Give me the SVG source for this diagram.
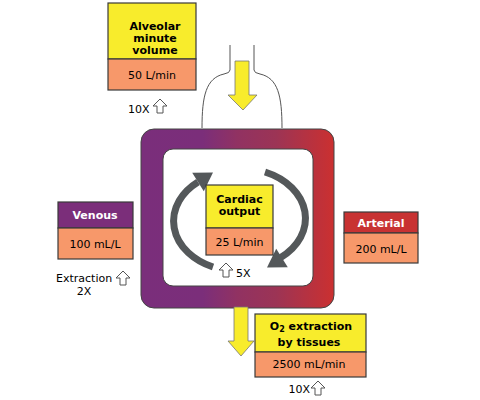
<svg xmlns="http://www.w3.org/2000/svg" width="480" height="400" viewBox="0 0 480 400">
<defs>
<style>
.box{stroke:#3a3a3a;stroke-width:1.2}
.yel{fill:#F8EC2C}
.org{fill:#F7986A}
.t{font-family:"DejaVu Sans",Verdana,sans-serif;font-size:11px;fill:#000;text-anchor:middle}
.b{font-weight:bold}
.w{fill:#fff}
.s{text-anchor:start}
.e{text-anchor:end}
.arc{fill:none;stroke:#54585A;stroke-width:7}
.head{fill:#54585A}
.ya{fill:#F8EC2C;stroke:#777;stroke-width:0.8}
.bell{fill:none;stroke:#555;stroke-width:1}
</style>
<linearGradient id="blood" gradientUnits="userSpaceOnUse" x1="141" y1="0" x2="334" y2="0">
<stop offset="0" stop-color="#7A2E7B"/>
<stop offset="0.32" stop-color="#7B2E7A"/>
<stop offset="0.5" stop-color="#913262"/>
<stop offset="0.7" stop-color="#9C3455"/>
<stop offset="1" stop-color="#CB3030"/>
</linearGradient>
<path id="up" d="M0,0 L7,7 L3,7 L3,14 L-3,14 L-3,7 L-7,7 Z" fill="#fff" stroke="#555" stroke-width="1"/>
</defs>

<g id="circulation">
<rect x="141" y="129" width="193" height="179" rx="13" fill="url(#blood)" stroke="#444" stroke-width="1"/>
<rect x="163" y="149" width="150" height="137" rx="10" fill="#fff" stroke="#444" stroke-width="1"/>
</g>

<g id="airway">
<path class="bell" d="M230,45 V70 Q230,73 224,74 C206,78 202,96 202,128"/>
<path class="bell" d="M254,45 V70 Q254,73 260,74 C278,78 282,96 282,128"/>
</g>

<g id="connectors">
<path class="ya" d="M235,61 H249 V95 H257 L243,110 L228,95 H235 Z"/>
<path class="ya" d="M234,307 H248 V341 H254 L241,356 L228,341 H234 Z"/>
<path class="arc" d="M213,267 A65 50 0 0 1 198,182"/>
<polygon class="head" points="213,172.5 203.8,191.3 192.2,172.7"/>
<path class="arc" d="M265,172 A65 50 0 0 1 280,258"/>
<polygon class="head" points="267,267.5 276.2,248.7 287.8,267.3"/>
</g>

<g id="alveolar">
<rect class="box yel" x="108" y="3" width="88" height="56"/>
<rect class="box org" x="108" y="59" width="88" height="31"/>
<text class="t b" x="155" y="30">Alveolar</text>
<text class="t b" x="155" y="42">minute</text>
<text class="t b" x="155" y="54">volume</text>
<text class="t" x="152" y="79">50 L/min</text>
<text class="t s" x="128" y="113">10X</text>
<use href="#up" x="160" y="99"/>
</g>

<g id="cardiac">
<rect class="box yel" x="206" y="185" width="67" height="43"/>
<rect class="box org" x="206" y="228" width="67" height="27"/>
<text class="t b" x="239.5" y="203">Cardiac</text>
<text class="t b" x="239.5" y="215">output</text>
<text class="t" x="239.5" y="246">25 L/min</text>
<use href="#up" x="226" y="263"/>
<text class="t s" x="236" y="277">5X</text>
</g>

<g id="venous">
<rect class="box" x="58" y="202" width="75" height="26" fill="#7B2E7A"/>
<rect class="box org" x="58" y="228" width="75" height="31"/>
<text class="t b w" x="95" y="219">Venous</text>
<text class="t" x="95" y="248">100 mL/L</text>
<text class="t s" x="56" y="282">Extraction</text>
<text class="t" x="84" y="295">2X</text>
<use href="#up" x="123" y="271"/>
</g>

<g id="arterial">
<rect class="box" x="344" y="212" width="74" height="21" fill="#C83232"/>
<rect class="box org" x="344" y="233" width="74" height="30"/>
<text class="t b w" x="381" y="227">Arterial</text>
<text class="t" x="381" y="253">200 mL/L</text>
</g>

<g id="extraction">
<rect class="box yel" x="255" y="314" width="111" height="38"/>
<rect class="box org" x="255" y="352" width="111" height="25"/>
<text class="t b" x="311" y="330">O<tspan font-size="8" dy="2">2</tspan><tspan dy="-2"> extraction</tspan></text>
<text class="t b" x="309" y="346">by tissues</text>
<text class="t" x="309" y="368">2500 mL/min</text>
<text class="t e" x="310" y="393">10X</text>
<use href="#up" x="318" y="381"/>
</g>
</svg>
